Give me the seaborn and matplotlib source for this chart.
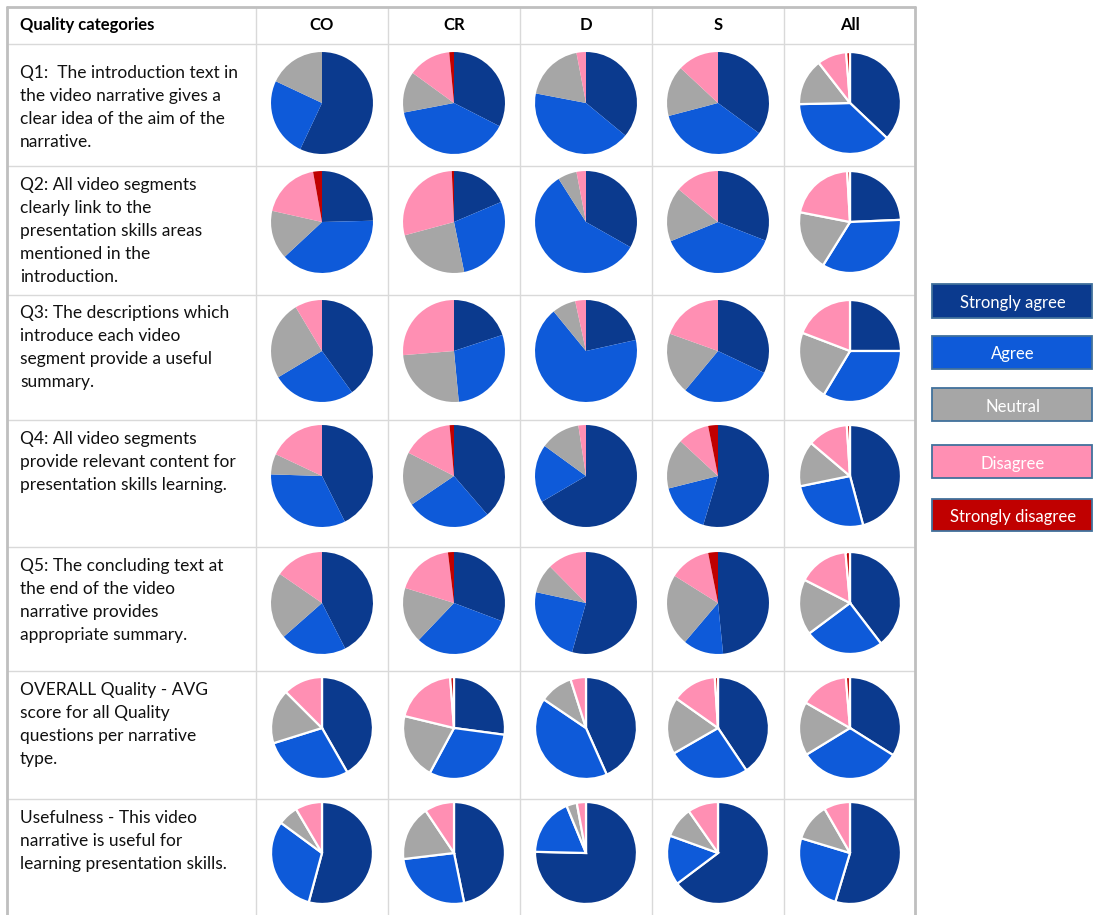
import matplotlib
matplotlib.use("Agg")
import matplotlib.pyplot as plt
from matplotlib.patches import Rectangle
import seaborn as sns

# ---------------- data ----------------
columns = ["CO", "CR", "D", "S", "All"]
levels = ["Strongly agree", "Agree", "Neutral", "Disagree", "Strongly disagree"]
row_labels = [
    ["Q1:  The introduction text in", "the video narrative gives a", "clear idea of the aim of the", "narrative."],
    ["Q2: All video segments", "clearly link to the", "presentation skills areas", "mentioned in the", "introduction."],
    ["Q3: The descriptions which", "introduce each video", "segment provide a useful", "summary."],
    ["Q4: All video segments", "provide relevant content for", "presentation skills learning."],
    ["Q5: The concluding text at", "the end of the video", "narrative provides", "appropriate summary."],
    ["OVERALL Quality - AVG", "score for all Quality", "questions per narrative", "type."],
    ["Usefulness - This video", "narrative is useful for", "learning presentation skills."],
]
strongly_agree = [[57, 32.5, 36, 35, 37],
                  [24.5, 18.6, 33.2, 31, 24.3],
                  [40, 19.9, 21.5, 32, 25],
                  [42.6, 38.7, 66.6, 54.6, 45.8],
                  [42.5, 30.7, 54.4, 48.4, 39.6],
                  [41.7, 27.1, 43.3, 40.6, 33.9],
                  [54.2, 46.8, 75.3, 64.8, 54.6]]
agree = [[25, 39.5, 42, 35.7, 37.5],
         [38.3, 28.2, 57.8, 38, 34.5],
         [26.4, 28.6, 67.5, 29, 33.6],
         [32.9, 26.9, 18.4, 16.4, 25.9],
         [21, 31.3, 24, 12.8, 25.2],
         [28.4, 30.7, 41.1, 26.1, 32.3],
         [30.9, 26.3, 18.4, 15.8, 25]]
neutral = [[18, 13, 19, 16, 14.8],
           [15.4, 24, 6, 17.2, 19.2],
           [25, 25.2, 7.5, 19.4, 22.2],
           [6.5, 17, 12.6, 15.8, 14.4],
           [21.1, 17.6, 9.2, 22.7, 17.7],
           [17.3, 20.9, 10.6, 18.1, 17],
           [6.4, 17.5, 3.3, 9.8, 12]]
disagree = [[0, 13.5, 3, 13, 9.3],
            [18.6, 28.5, 3, 14, 21],
            [8.6, 26.3, 3.4, 19.5, 19.2],
            [18, 16.1, 2.4, 10, 12.8],
            [15.4, 18.3, 12.4, 13, 16.1],
            [12.5, 20, 4.9, 14.2, 15.4],
            [8.5, 9.4, 2.9, 9.7, 8.3]]
strongly_disagree = [[0, 1.5, 0, 0, 1.2],
                     [2.8, 0.7, 0, 0, 0.9],
                     [0, 0, 0, 0, 0],
                     [0, 1.4, 0, 3.1, 1],
                     [0, 1.9, 0, 3.1, 1.4],
                     [0, 1.2, 0, 1, 1.3],
                     [0, 0, 0, 0, 0]]

# ---------------- style ----------------
sns.set_theme(style="white")
plt.rcParams["font.family"] = ["Lato", "DejaVu Sans"]
palette = sns.color_palette(["#0B3A8E", "#0E5AD9", "#A6A6A6", "#FF8FB3", "#C00000"])

W, H = 1094, 915
fig = plt.figure(figsize=(W / 100, H / 100), dpi=100)
bg = fig.add_axes([0, 0, 1, 1])
bg.set_xlim(0, W)
bg.set_ylim(H, 0)
bg.axis("off")

# table geometry (pixels)
left, right, top = 7, 915, 7
col_edges = [256, 388, 520, 652, 784]
row_edges = [44, 166, 295, 420, 547, 671, 799]
col_centers = [322, 454, 586, 718, 850]
row_centers = [103, 222, 351, 476, 603, 728, 853]
text_top = [73, 185, 313, 439, 566, 690, 818]
line_h = 23
radius = 52.5

grid_c = "#D9D9D9"
for x in col_edges:
    bg.plot([x, x], [top, H], color=grid_c, lw=1.0, solid_capstyle="butt")
for y in row_edges:
    bg.plot([left, right], [y, y], color=grid_c, lw=1.0, solid_capstyle="butt")
border_c = "#BFBFBF"
bg.plot([left, left], [top, H], color=border_c, lw=2.0)
bg.plot([left, right], [top, top], color=border_c, lw=2.0)
bg.plot([right, right], [top, H], color=border_c, lw=2.0)

# header
bg.text(20, 25, "Quality categories", fontsize=12, fontweight="bold",
        ha="left", va="center", color="black")
for cx, name in zip(col_centers, columns):
    bg.text(cx, 25, name, fontsize=12, fontweight="bold", ha="center",
            va="center", color="black")

# row labels
for ty, lines in zip(text_top, row_labels):
    for k, line in enumerate(lines):
        bg.text(20, ty + k * line_h, line, fontsize=12.5, ha="left",
                va="center", color="#111111")

# pies
series = [strongly_agree, agree, neutral, disagree, strongly_disagree]
for i, cy in enumerate(row_centers):
    for j, cx in enumerate(col_centers):
        vals, cols = [], []
        for s, c in zip(series, palette):
            if s[i][j] > 0:
                vals.append(s[i][j])
                cols.append(c)
        ax = fig.add_axes([(cx - radius) / W, 1 - (cy + radius) / H,
                           2 * radius / W, 2 * radius / H])
        white_edges = (i >= 5) or (j == 4)
        wp = dict(edgecolor="white", linewidth=1.6) if white_edges else dict(linewidth=0)
        ax.pie(vals, colors=cols, startangle=90, counterclock=False,
               wedgeprops=wp)
        ax.set_xlim(-1.03, 1.03)
        ax.set_ylim(-1.03, 1.03)
        ax.axis("off")

# legend boxes
legend_y = [[284, 318], [336, 369], [388, 421], [445, 478], [499, 531]]
for (y0, y1), lab, c in zip(legend_y, levels, palette):
    bg.add_patch(Rectangle((932, y0), 160, y1 - y0, facecolor=c,
                           edgecolor="#41719C", lw=1.3))
    bg.text(1013, (y0 + y1) / 2 + 2, lab, fontsize=12, color="white",
            ha="center", va="center")

fig.savefig("out.png", dpi=100)
